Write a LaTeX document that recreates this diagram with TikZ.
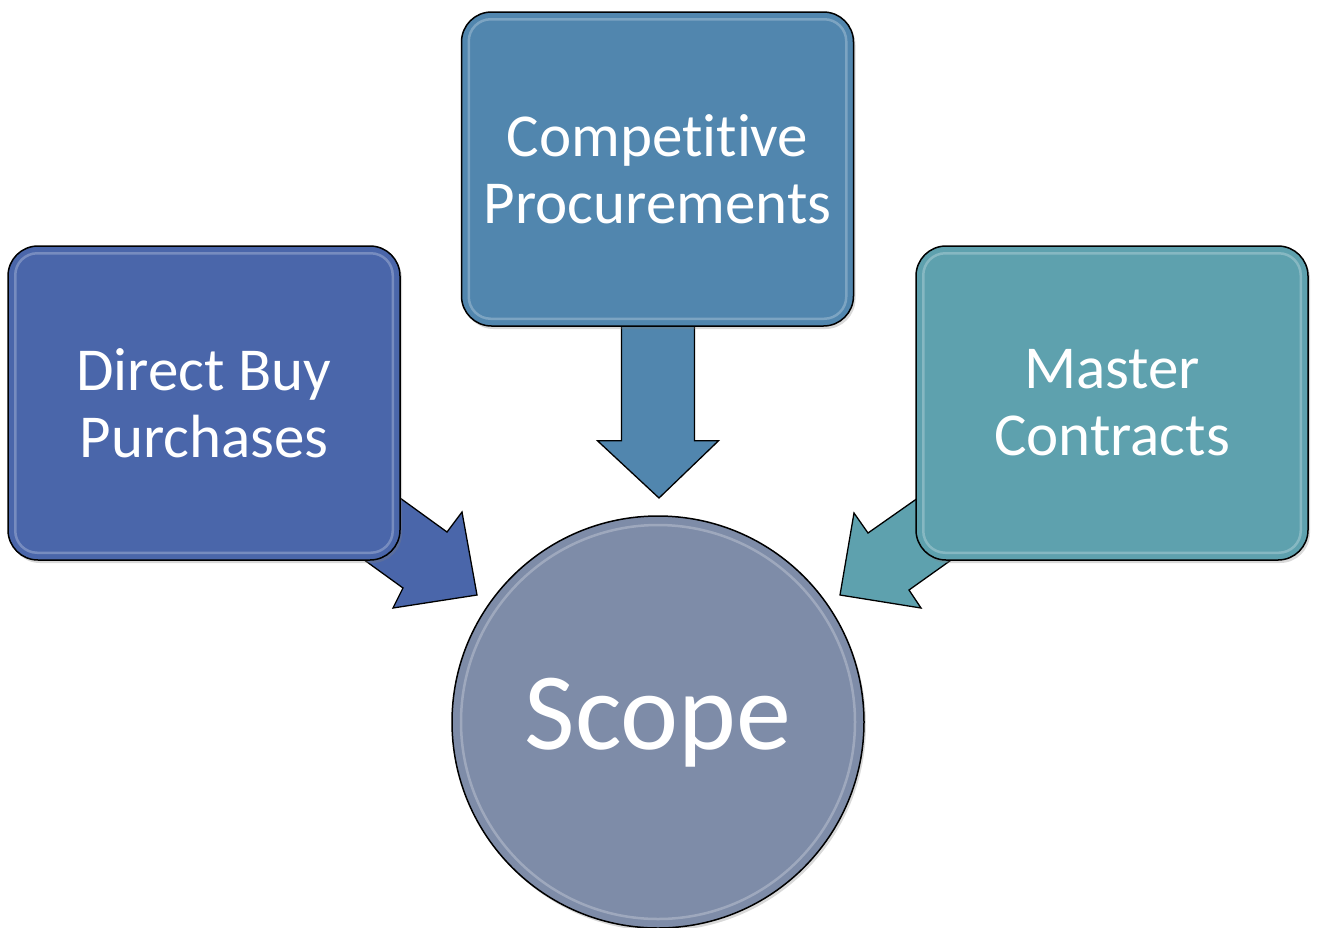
\documentclass[tikz,border=0pt]{standalone}
\usepackage{fontspec}
\setmainfont{Carlito}[Ligatures={NoCommon}]
\usetikzlibrary{calc,shadows}
\pgfdeclarelayer{bg}
\pgfsetlayers{bg,main}
\definecolor{cleft}{HTML}{4A66AA}
\definecolor{cmid}{HTML}{5186AE}
\definecolor{cright}{HTML}{5EA1AE}
\definecolor{ccirc}{HTML}{7E8CA8}
\tikzset{
  box/.style={draw=black, line width=1.5pt, rounded corners=30pt,
    minimum width=392pt, minimum height=314pt, text=white, align=center,
    font=\fontsize{61}{67}\selectfont, inner sep=0pt,
    drop shadow={shadow xshift=2pt, shadow yshift=-3pt, opacity=0.3}},
  blockarrow/.style={draw=black, line width=1.3pt, line join=miter},
  hilite/.style={draw=white, opacity=0.25, line width=2.5pt, rounded corners=22pt},
}
\begin{document}
\begin{tikzpicture}[x=1pt,y=-1pt]
\useasboundingbox (0,0) rectangle (1319,927);

% boxes
\node[box, fill=cleft] (db) at (204,403) {Direct Buy\\Purchases};
\node[box, fill=cmid] (cp) at (657.5,169) {Competitive\\Procurements};
\node[box, fill=cright] (mc) at (1112,403) {Master\\Contracts};

% centre circle
\node[circle, draw=black, line width=1.5pt, fill=ccirc, minimum size=412pt,
  inner sep=0pt, text=white, font=\fontsize{110}{112}\selectfont,
  text height=83pt, text depth=29pt,
  drop shadow={shadow xshift=2pt, shadow yshift=-3pt, opacity=0.3}] (sc) at (658,722) {Scope};

% highlights
\draw[hilite] ($(db.north west)+(8,8)$) rectangle ($(db.south east)+(-8,-8)$);
\draw[hilite] ($(cp.north west)+(8,8)$) rectangle ($(cp.south east)+(-8,-8)$);
\draw[hilite] ($(mc.north west)+(8,8)$) rectangle ($(mc.south east)+(-8,-8)$);
\draw[draw=white, opacity=0.25, line width=2.5pt] (sc.center) circle (197);

% block arrows behind the boxes
\begin{pgfonlayer}{bg}
  % down arrow from Competitive Procurements
  \coordinate (dtip) at (659,498);
  \filldraw[blockarrow, fill=cmid]
    ($(cp.south)+(-36,-10)$) -- ($(cp.south)+(-36,114)$) -- ($(cp.south)+(-60,114)$)
    -- (dtip) -- ($(cp.south)+(61,114)$) -- ($(cp.south)+(37,114)$)
    -- ($(cp.south)+(37,-10)$) -- cycle;
  % arrow from Direct Buy Purchases
  \coordinate (ltip) at (477,595);
  \filldraw[blockarrow, fill=cleft]
    (380,483.5) -- (447,532) -- (462,512) -- (ltip) -- (393,608)
    -- (403,588) -- (347,547.5) -- cycle;
  % arrow from Master Contracts
  \coordinate (rtip) at (840,595);
  \filldraw[blockarrow, fill=cright]
    (935,486) -- (868,533) -- (854,513) -- (rtip) -- (921,608)
    -- (909,590) -- (968,548) -- cycle;
\end{pgfonlayer}
\end{tikzpicture}
\end{document}
